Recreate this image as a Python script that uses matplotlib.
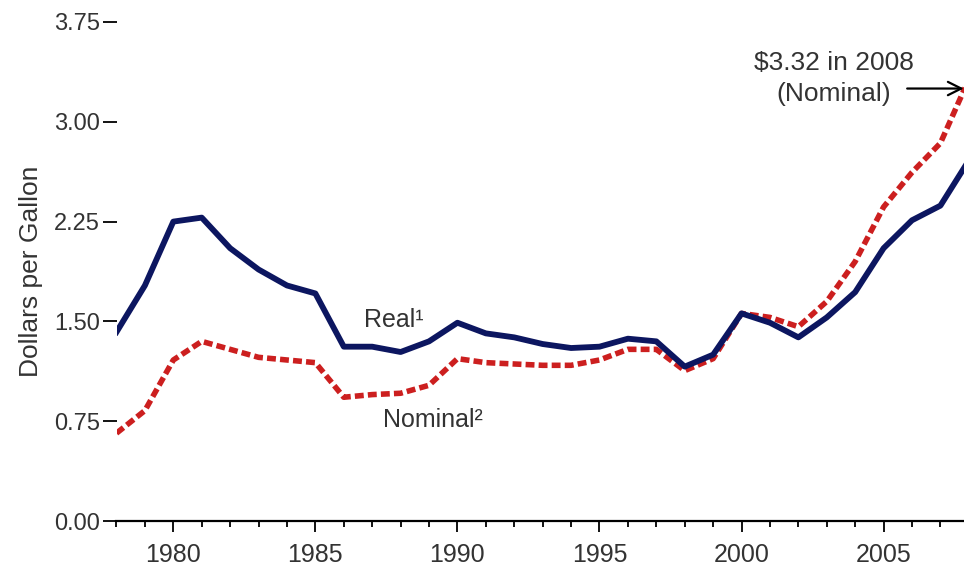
import matplotlib.pyplot as plt
import numpy as np

plt.rcParams['font.family'] = ['Liberation Sans', 'DejaVu Sans']

# Gasoline prices, dollars per gallon
years = np.arange(1978, 2009)
real = [1.42, 1.77, 2.25, 2.28, 2.05, 1.89, 1.77, 1.71, 1.31, 1.31,
        1.27, 1.35, 1.49, 1.41, 1.38, 1.33, 1.30, 1.31, 1.37, 1.35,
        1.16, 1.25, 1.56, 1.49, 1.38, 1.53, 1.72, 2.05, 2.26, 2.37, 2.71]
nominal = [0.66, 0.83, 1.21, 1.35, 1.29, 1.23, 1.21, 1.19, 0.93, 0.95,
           0.96, 1.02, 1.22, 1.19, 1.18, 1.17, 1.17, 1.21, 1.29, 1.29,
           1.13, 1.22, 1.56, 1.53, 1.46, 1.65, 1.95, 2.36, 2.62, 2.84, 3.32]
yticks = [0.00, 0.75, 1.50, 2.25, 3.00, 3.75]

fig = plt.figure(figsize=(9.64, 5.69), dpi=100)
ax = fig.add_axes([116.5 / 964, 48 / 569, 1 - 116.5 / 964, 499 / 569])

ax.plot(years, nominal, color='#cc1f1f', lw=4.0, dashes=(1.6, 0.75),
        dash_capstyle='butt')
ax.plot(years, real, color='#0c1660', lw=4.2)

ax.set_xlim(1978, 2007.83)
ax.set_ylim(0, 3.75)
ax.set_yticks(yticks)
ax.set_yticklabels([f'{v:.2f}' for v in yticks])
ax.set_xticks(range(1980, 2008, 5))
ax.set_xticks(range(1978, 2008), minor=True)

for s in ['left', 'right', 'top']:
    ax.spines[s].set_visible(False)
ax.spines['bottom'].set_linewidth(1.6)

ax.tick_params(axis='y', length=10, width=1.3, pad=2, labelsize=17,
               labelcolor='#333333')
ax.tick_params(axis='x', which='major', length=8, width=1.3, pad=8,
               labelsize=18, labelcolor='#333333')
ax.tick_params(axis='x', which='minor', length=4.5, width=1.3)

ax.set_ylabel('Dollars per Gallon', fontsize=19, color='#333333', labelpad=8)

ax.text(1987.75, 1.51, 'Real¹', fontsize=18, color='#333333', ha='center', va='center')
ax.text(1989.15, 0.76, 'Nominal²', fontsize=18, color='#333333', ha='center', va='center')

# callout for the 2008 nominal price
ax.text(2003.26, 3.44, '$3.32 in 2008', fontsize=19, color='#333333',
        ha='center', va='center')
ax.text(2003.26, 3.21, '(Nominal)', fontsize=19, color='#333333',
        ha='center', va='center')
ax.annotate('', xy=(2007.82, 3.25), xytext=(2005.83, 3.25),
            annotation_clip=False,
            arrowprops=dict(arrowstyle='->', color='black', lw=1.6,
                            mutation_scale=24, shrinkA=0, shrinkB=0))

fig.savefig('out.png', dpi=100)
